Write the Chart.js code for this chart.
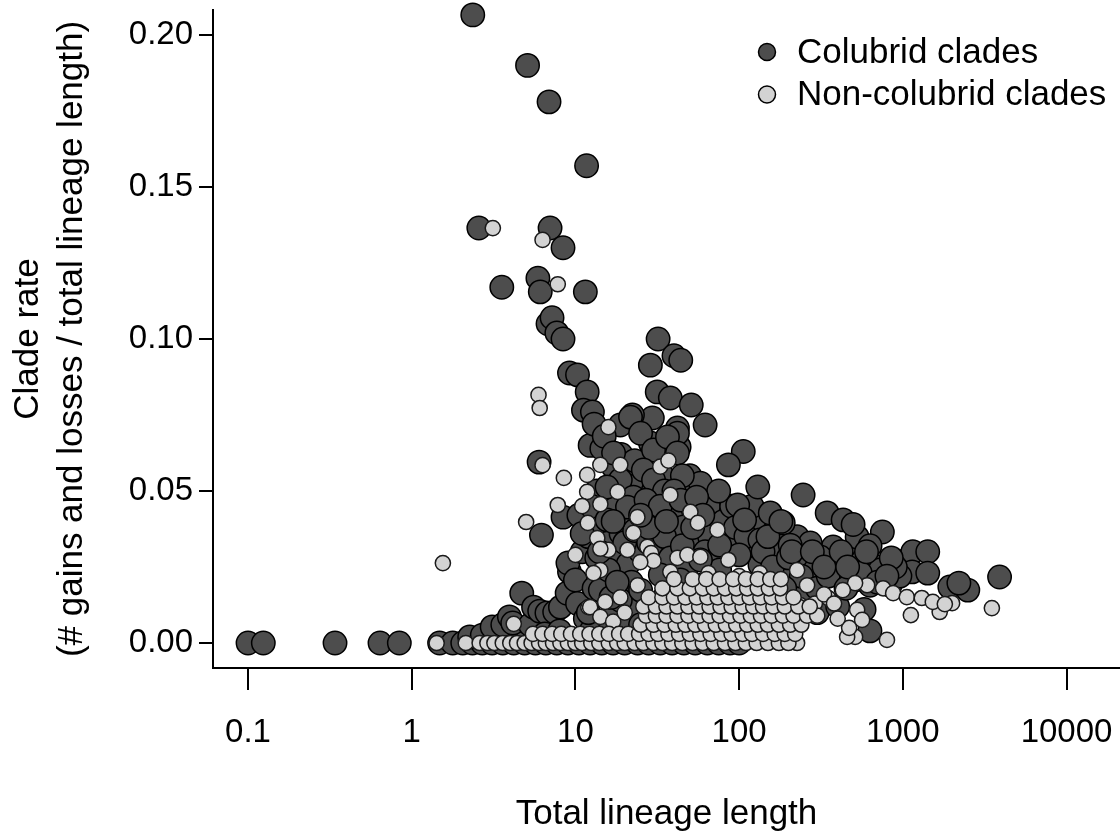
<!DOCTYPE html>
<html><head><meta charset="utf-8">
<script src="https://cdn.jsdelivr.net/npm/chart.js@4.4.1/dist/chart.umd.min.js"></script>
<style>html,body{margin:0;padding:0;background:#fff}#wrap{width:1120px;height:835px}</style>
</head><body><div id="wrap"><canvas id="c" width="1120" height="835"></canvas></div>
<script>
const seriesNames = ['Colubrid clades', 'Non-colubrid clades'];
const xTicks = [0.1, 1, 10, 100, 1000, 10000];
const yTicks = [0, 0.05, 0.10, 0.15, 0.20];
const xTitle = 'Total lineage length';
const yTitle = ['Clade rate', '(# gains and losses / total lineage length)'];

// Colubrid clades: [total lineage length, clade rate]
const colubridZeroRow = [[0.1,0],[0.124,0],[0.34,0],[0.64,0],[0.84,0],[1.48,0],[1.78,0],[2.05,0],[2.35,0],[2.7,0],[3.1,0],[3.6,0],[4.2,0],[4.9,0],[5.7,0],[6.6,0],[7.7,0],[9.0,0],[10.5,0],[12.3,0],[14.5,0],[17,0],[20,0],[24,0],[28,0],[33,0],[39,0],[46,0],[54,0],[64,0],[75,0],[88,0],[100,0]];
const colubridLow = [[2.26,0.002],[2.7,0.0026],[3.1,0.0053],[3.6,0.006],[3.95,0.0086],[4.14,0.0066],[4.7,0.0164],[5.3,0.006],[5.55,0.0118],[6.05,0.0105],[6.7,0.0099],[7.47,0.0102],[8.1,0.0118],[8.9,0.0164],[9.2,0.0234],[9.0,0.0263],[10,0.0207],[10.3,0.013],[11.5,0.008],[12.5,0.004],[6.5,0.003],[8,0.004],
  [12,0.01],[13,0.018],[11,0.03],[12,0.035],[13.5,0.028],[15,0.022],[14,0.04],[16,0.033],[17.5,0.027],[19,0.036],[21,0.026],[22,0.02],[25,0.03],[18,0.045],[20,0.04],[16,0.008],[20,0.006],[22,0.012],[14.2,0.0174],[18.8,0.0141],[25,0.0174],[15.9,0.024],[8.4,0.0414],[10.5,0.042],[11,0.036],[6.2,0.0355],
  [40,0.008],[60,0.006],[80,0.01],[120,0.007],[150,0.012],[200,0.008],[300,0.01],[35,0.015],[90,0.016],[250,0.016],[400,0.012],[50,0.012],[25,0.006],[170,0.004],
  [14,0.03],[16.5,0.015],[18,0.02],[20,0.033],[23,0.037],[28,0.033],[32,0.03]];
const colubridHigh = [[2.36,0.2066],[5.1,0.190],[6.9,0.178],[11.7,0.157],[2.57,0.1365],[7.0,0.1365],[8.4,0.130],[3.55,0.117],[5.9,0.120],[6.1,0.1155],[11.5,0.1155],[6.8,0.105],[7.2,0.107],[7.7,0.102],[8.4,0.100],[9.2,0.0888],[10.3,0.0882],[11.8,0.0826],[11.2,0.0766],[12.7,0.076],[6.0,0.0595],
  [32,0.100],[40,0.0945],[44,0.093],[28.7,0.0914],[31.6,0.0826],[38,0.0806],[51,0.0783],[62,0.0717],[29.5,0.074],[42,0.0707],[43,0.0645],[22.3,0.075],[18.8,0.0717],[13.6,0.0658],[15.7,0.0625],[28.7,0.0658],[30,0.060],[106,0.063],[86,0.0586],[42,0.069],[12.3,0.065],[14.5,0.064],
  [13,0.072],[15,0.068],[17,0.058],[19,0.062],[21,0.055],[23,0.06],[24,0.052],[34,0.055],[50,0.055],[13.5,0.05],[12.5,0.045]];
const colubridMid = [[17.1,0.0625],[21.7,0.0743],[25,0.069],[30,0.0635],[26,0.0569],[18.8,0.0536],[15.6,0.0513],[22.6,0.048],[30,0.0503],[15.6,0.0405],[20.8,0.0447],[29,0.0428],[39.7,0.0437],[48.3,0.0503],[52.6,0.0437],[45.7,0.0382],[36.5,0.0678],[42,0.0625],[30,0.0536],[58,0.0526],[69.6,0.0395],[100,0.0349],[134,0.0405],[161,0.0362],[178,0.0306],[260,0.0316],[375,0.0316],[500,0.0283],[760,0.025],
  [35,0.035],[28,0.038],[55,0.032],[65,0.045],[80,0.04],[38,0.028],[48,0.025],[66,0.035],[90,0.045],[120,0.03],[35,0.05],[45,0.055],[75,0.05],
  [27,0.047],[33,0.045],[36,0.04],[40,0.05],[44,0.047],[55,0.048],[60,0.042],[25,0.042],[17,0.04],[45,0.032],[52,0.038],[62,0.03],[70,0.027],[85,0.035],[95,0.038],[110,0.035],[120,0.045]];
const colubridRight = [[98,0.0454],[130,0.0513],[155,0.0428],[246,0.0487],[345,0.0428],[432,0.0405],[526,0.0349],[750,0.0365],[605,0.0273],[226,0.035],[272,0.0329],[697,0.025],[1057,0.0273],[414,0.0263],[313,0.0283],[186,0.0395],[1150,0.030],[1420,0.030],[1140,0.0234],[1420,0.023],[497,0.039],[572,0.0273],[727,0.024],[1937,0.0184],[2495,0.0174],[2200,0.0197],[3900,0.0217],[108,0.0405],[134,0.0339],[205,0.0322],[236,0.0273],[291,0.024],[386,0.0224],[511,0.0207],[631,0.019],[836,0.019],[134,0.0257],[178,0.0224],[100,0.029],[76,0.0322],[76,0.024],[58,0.0273],[58,0.019],[43.8,0.0207],[33,0.0224],[960,0.022],[631,0.032],[580,0.011],[630,0.004],
  [140,0.03],[160,0.025],[200,0.028],[240,0.022],[300,0.018],[350,0.022],[450,0.018],[550,0.023],[700,0.02],[900,0.025],[150,0.035],[180,0.04],[210,0.03],[190,0.018],[280,0.03],[330,0.025],[420,0.03],[460,0.025],[600,0.03],[850,0.028],[800,0.022]];

// Non-colubrid clades
const nonColubridOutliers = [[3.13,0.1365],[6.3,0.1326],[7.8,0.118],[5.95,0.0816],[6.05,0.0773],[15.9,0.071],[6.3,0.0585],[14.2,0.0586],[18.8,0.0586],[33,0.058],[37,0.060],[8.5,0.0543],[11.8,0.0553],[11.8,0.0497],[11.0,0.045],[7.8,0.0454],[14.2,0.0457],[11.9,0.0395],[13.6,0.0345],[15.9,0.0306],[18.1,0.0497],[10,0.029],[14.2,0.024],[5.0,0.0398],[1.55,0.0263],[23.9,0.0414],[22.6,0.0362],[20.8,0.0306],[27.5,0.0316],[38,0.0487],[50.4,0.0431],[56,0.0395],[73.7,0.0372],[4.2,0.0063],[12,0.0118],[12.9,0.023],[14.2,0.031],[29,0.0296],[30,0.027]];
const nonColubridRight = [[3500,0.0115],[800,0.001],[1120,0.0092],[1680,0.0102],[2000,0.0131],[605,0.019],[758,0.018],[873,0.0164],[1058,0.0151],[1306,0.0148],[1525,0.0135],[1806,0.0128],[526,0.0109],[564,0.0076],[511,0.002],[511,0.0197],[430,0.0174],[350,0.0148],[290,0.013],[236,0.0125],[457,0.002],[226,0],[470,0.005],[400,0.008]];
const nonColubridUpper = [[24.9,0.0266],[42,0.028],[48.3,0.029],[58,0.0283],[86,0.0273],[134,0.023],[226,0.024],[38,0.0234],[65,0.023],[100,0.022],[161,0.0197],[260,0.019],[330,0.016],[380,0.013],[24,0.019],[18.8,0.015],[12.3,0.0118],[15.2,0.0135],[14.2,0.0086],[17,0.007],[20,0.01]];
const nonColubridRow0 = [1.42,2.14,2.6,2.9,3.2,3.6,4.0,4.4,4.9,5.4,6.0,6.6,7.3,8.1,9.0,10,11,12.5,14,16,18,20,23,26,30,34,39,45,52,60,70,82,95,110,128,150,175,200];
const nonColubridRow003 = [5.5,6.3,7.2,8.2,9.4,10.7,12.2,14,16,18.5,21,24.5,28,32,37,43,50,58,67,78,90,105,120,140,165,190,220];
const nonColubridRow006 = [25,30,35,41,47,54,62,72,83,96,112,130,150,175,205,240];
const nonColubridRow009 = [27,31,36,42,49,57,66,76,88,102,118,136,158,185,215,260,300];
const nonColubridRow012 = [26,31,36,42,49,57,66,77,90,105,122,140,162,190,230,270];
const nonColubridRow015 = [28,34,40,47,55,64,74,86,100,116,135,158,185,215];
const nonColubridRow018 = [34,42,50,60,70,82,96,112,130,152,178];
const nonColubridRow021 = [40,52,63,76,92,110,130,155,180];

const FONT = '"Liberation Sans", Arial, Helvetica, sans-serif';
const toPts = arr => arr.map(p => ({x: p[0], y: p[1]}));
const rowPts = (xs, y) => xs.map(x => ({x, y}));

const colubridData = toPts([].concat(colubridZeroRow, colubridLow, colubridHigh, colubridMid, colubridRight));
const nonColubridData = toPts([].concat(nonColubridOutliers, nonColubridRight, nonColubridUpper))
  .concat(rowPts(nonColubridRow0, 0), rowPts(nonColubridRow003, 0.003), rowPts(nonColubridRow006, 0.006),
          rowPts(nonColubridRow009, 0.009), rowPts(nonColubridRow012, 0.012), rowPts(nonColubridRow015, 0.015),
          rowPts(nonColubridRow018, 0.018), rowPts(nonColubridRow021, 0.021));

const legendPlugin = {
  id: 'rLegend',
  afterDraw(chart) {
    const ctx = chart.ctx;
    const items = [
      {label: seriesNames[0], fill: '#4d4d4d'},
      {label: seriesNames[1], fill: '#d3d3d3'}
    ];
    ctx.save();
    ctx.font = '35px ' + FONT;
    ctx.textBaseline = 'middle';
    ctx.textAlign = 'left';
    items.forEach((it, i) => {
      const y = 52 + i * 42.5;
      ctx.beginPath();
      ctx.arc(767, y, 8.5, 0, Math.PI * 2);
      ctx.fillStyle = it.fill;
      ctx.fill();
      ctx.lineWidth = 1.5;
      ctx.strokeStyle = '#000';
      ctx.stroke();
      ctx.fillStyle = '#000';
      ctx.fillText(it.label, 797, y + 1);
    });
    ctx.restore();
  }
};

new Chart(document.getElementById('c'), {
  type: 'scatter',
  data: {
    datasets: [
      {label: seriesNames[0], data: colubridData, order: 2, clip: false,
       pointRadius: 11.7, pointBackgroundColor: '#4d4d4d', pointBorderColor: '#000', pointBorderWidth: 1.5},
      {label: seriesNames[1], data: nonColubridData, order: 1, clip: false,
       pointRadius: 7.6, pointBackgroundColor: '#d3d3d3', pointBorderColor: '#1a1a1a', pointBorderWidth: 1.5}
    ]
  },
  options: {
    responsive: false,
    animation: false,
    events: [],
    layout: {autoPadding: false, padding: {top: 10, right: 0, bottom: 0, left: 0}},
    plugins: {legend: {display: false}, tooltip: {enabled: false}},
    scales: {
      x: {
        type: 'logarithmic', min: 0.0611, max: 21220,
        afterBuildTicks: s => { s.ticks = xTicks.map(v => ({value: v})); },
        afterFit: s => { s.height = 167; s.paddingLeft = 0; s.paddingRight = 0; },
        border: {display: true, color: '#000', width: 2},
        grid: {display: true, drawOnChartArea: false, drawTicks: true, tickLength: 22, color: '#000', lineWidth: 2},
        ticks: {color: '#000', font: {size: 33, family: FONT}, padding: 23, maxRotation: 0, autoSkip: false,
                callback: v => String(v)},
        title: {display: true, text: xTitle, color: '#000', font: {size: 35, family: FONT}, padding: {top: 0, bottom: 0}}
      },
      y: {
        type: 'linear', min: -0.008224, max: 0.20822,
        afterBuildTicks: s => { s.ticks = yTicks.map(v => ({value: v})); },
        afterFit: s => { s.width = 213; s.paddingTop = 0; s.paddingBottom = 0; },
        border: {display: true, color: '#000', width: 2},
        grid: {display: true, drawOnChartArea: false, drawTicks: true, tickLength: 14, color: '#000', lineWidth: 2},
        ticks: {color: '#000', font: {size: 33, family: FONT}, padding: 6, callback: v => Number(v).toFixed(2)},
        title: {display: true, text: yTitle, color: '#000', font: {size: 35, family: FONT, lineHeight: 1.26}, padding: {top: 6, bottom: 0}}
      }
    }
  },
  plugins: [legendPlugin]
});
</script></body></html>
